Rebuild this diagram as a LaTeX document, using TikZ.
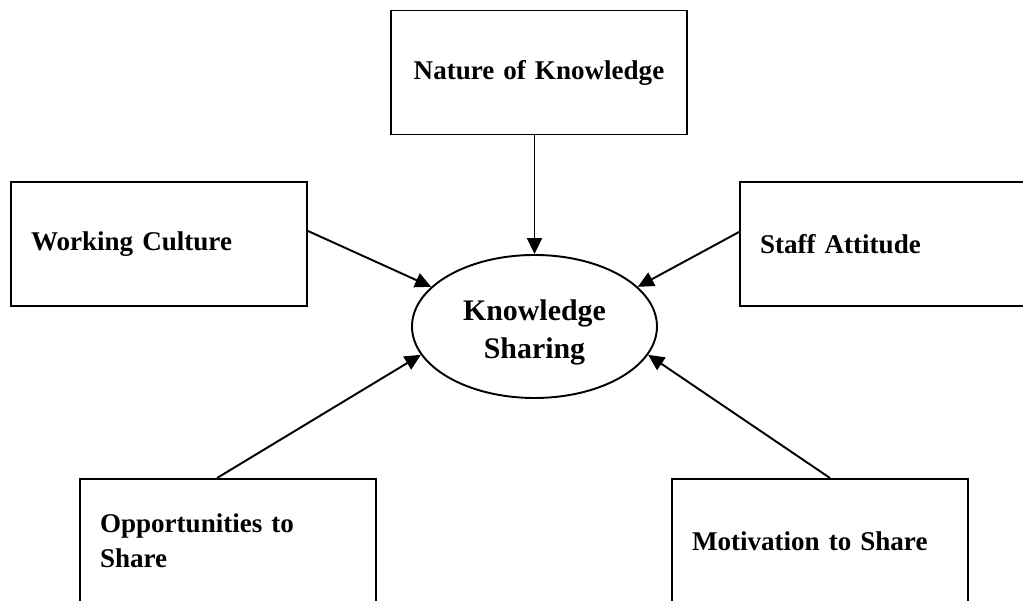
\documentclass[tikz,border=0pt]{standalone}
\usepackage{fontspec}
\setmainfont{Liberation Serif}
\usetikzlibrary{shapes.geometric,arrows.meta}

\tikzset{
    factor/.style={draw, line width=1.1pt, minimum width=5.92cm, minimum height=2.48cm,
        text width=5.12cm, inner xsep=0.4cm, align=left},
    core/.style={draw, ellipse, line width=1.1pt, minimum width=4.9cm, minimum height=2.86cm,
        inner sep=0pt, align=center, font=\bfseries\fontsize{17}{21.6}\selectfont},
    link/.style={line width=1.1pt, -{Triangle[length=3.2mm,width=3mm]}}
}

\begin{document}
\begin{tikzpicture}[font=\bfseries\fontsize{15.4}{20}\selectfont]
    \clip (0.0, 0.0) rectangle (20.46, 12.02);

    \node[core] (ks) at (10.69, 5.49) {};
    \node[align=center, font=\bfseries\fontsize{17}{21.6}\selectfont] (kslabel) at (10.69, 5.37) {Knowledge\\Sharing};

    \node[factor, align=center] (nature) at (10.78, 10.57) {Nature of Knowledge};
    \node[factor] (working) at (3.18, 7.14) {Working Culture};
    \node[factor] (staff) at (17.76, 7.14) {Staff Attitude};
    \node[factor] (opp) at (4.56, 1.2) {Opportunities to\\Share};
    \node[factor] (motiv) at (16.4, 1.2) {Motivation to Share};

    \draw[link] (nature.south -| ks.north) -- (ks.north);
    \draw[link] ([yshift=0.26cm]working.east) -- (ks.159);
    \draw[link] ([yshift=0.24cm]staff.west) -- (ks.21);
    \draw[link] ([xshift=-0.22cm]opp.north) -- (ks.194);
    \draw[link] ([xshift=0.2cm]motiv.north) -- (ks.346);
\end{tikzpicture}
\end{document}
